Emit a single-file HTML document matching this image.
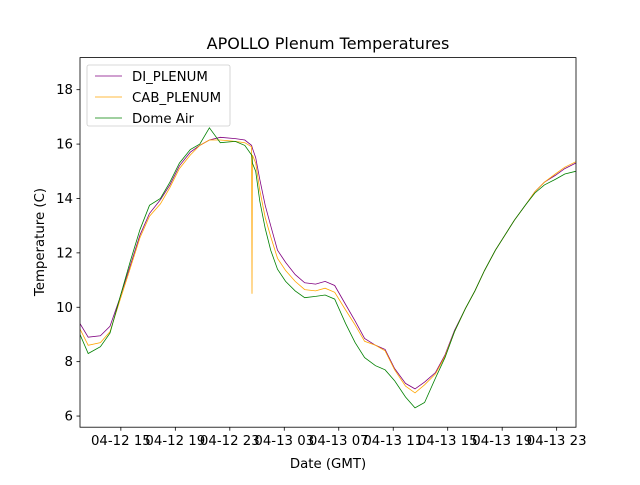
<!DOCTYPE html>
<html><head><meta charset="utf-8"><style>
body{margin:0;background:#fff}
svg{font-family:"DejaVu Sans","Liberation Sans",sans-serif}
</style></head><body>
<svg width="640" height="480" viewBox="0 0 640 480">
<g id="plot"></g>
</svg>
<script>
const times=[12.0,12.6,13.5,14.2,14.9,15.7,16.4,17.1,17.9,18.6,19.3,20.1,20.8,21.5,22.3,23.4,24.1,24.6,24.63,24.66,24.9,25.2,25.6,26.0,26.5,27.1,27.8,28.5,29.3,30.0,30.7,31.5,32.2,32.9,33.7,34.4,35.1,35.9,36.6,37.3,38.1,38.8,39.5,40.3,41.0,41.7,42.5,43.2,43.9,44.7,45.4,46.1,46.9,47.6,48.4];
const diPlenum=[9.4,8.9,8.95,9.3,10.3,11.55,12.65,13.45,13.95,14.5,15.2,15.7,15.95,16.15,16.25,16.2,16.15,15.95,15.9,15.85,15.5,14.7,13.75,13.0,12.1,11.65,11.2,10.9,10.85,10.95,10.8,10.1,9.5,8.85,8.6,8.45,7.75,7.2,7.0,7.25,7.6,8.25,9.15,9.95,10.6,11.35,12.1,12.65,13.2,13.75,14.25,14.6,14.85,15.1,15.3];
const cabPlenum=[9.2,8.6,8.7,9.1,10.2,11.45,12.55,13.35,13.8,14.4,15.1,15.6,15.95,16.15,16.15,16.1,16.05,15.9,10.5,15.6,15.3,14.3,13.3,12.6,11.8,11.35,10.95,10.65,10.6,10.7,10.55,9.9,9.35,8.75,8.6,8.4,7.7,7.1,6.85,7.15,7.55,8.2,9.1,9.95,10.6,11.35,12.1,12.65,13.2,13.75,14.25,14.6,14.9,15.15,15.35];
const domeAir=[9.0,8.3,8.55,9.05,10.3,11.7,12.85,13.75,14.0,14.6,15.3,15.8,16.0,16.6,16.05,16.1,15.95,15.6,15.5,15.3,15.0,13.9,12.9,12.1,11.4,10.95,10.6,10.35,10.4,10.45,10.3,9.4,8.7,8.15,7.85,7.7,7.3,6.7,6.3,6.5,7.4,8.15,9.1,9.95,10.6,11.35,12.1,12.65,13.2,13.75,14.2,14.5,14.7,14.9,15.0];
const yTicks=[6,8,10,12,14,16,18];
const xTickHours=[15,19,23,27,31,35,39,43,47];
const xTickLabels=["04-12 15","04-12 19","04-12 23","04-13 03","04-13 07","04-13 11","04-13 15","04-13 19","04-13 23"];
const seriesNames=["DI_PLENUM","CAB_PLENUM","Dome Air"];

const L=80,R=576,T=57.6,B=427.2;
const X0=12.0,X1=48.42,Y0=5.59,Y1=19.18;
const sx=h=>L+(h-X0)/(X1-X0)*(R-L);
const sy=v=>B-(v-Y0)/(Y1-Y0)*(B-T);
const NS="http://www.w3.org/2000/svg";
const g=document.getElementById('plot');
function mk(tag,attrs,parent){const e=document.createElementNS(NS,tag);for(const k in attrs)e.setAttribute(k,attrs[k]);(parent||g).appendChild(e);return e;}

const clip=mk('clipPath',{id:'c'});mk('rect',{x:L,y:T,width:R-L,height:B-T},clip);
const colors=["#800080","#ffa500","#008000"];
const data=[diPlenum,cabPlenum,domeAir];
const names=["series-di-plenum","series-cab-plenum","series-dome-air"];
data.forEach((vals,i)=>{
  const p=mk('polyline',{points:times.map((t,j)=>sx(t).toFixed(1)+','+sy(vals[j]).toFixed(1)).join(' '),fill:'none',stroke:colors[i],'stroke-width':0.8,'clip-path':'url(#c)'});
  
  
});
const frame=mk('rect',{x:L,y:T,width:R-L,height:B-T,fill:'none',stroke:'#000','stroke-width':0.8});


yTicks.forEach(v=>{
  const y=sy(v);
  mk('line',{x1:L-3.5,x2:L,y1:y,y2:y,stroke:'#000','stroke-width':0.8});
  const t=mk('text',{x:L-7,y:y+4.5,'text-anchor':'end','font-size':13.3});t.textContent=v;
  
  
});
xTickHours.forEach((h,i)=>{
  const x=sx(h);
  mk('line',{x1:x,x2:x,y1:B,y2:B+3.5,stroke:'#000','stroke-width':0.8});
  const t=mk('text',{x:x,y:B+18,'text-anchor':'middle','font-size':13.3});t.textContent=xTickLabels[i];
  
  
});
const title=mk('text',{x:(L+R)/2,y:49,'text-anchor':'middle','font-size':16});title.textContent="APOLLO Plenum Temperatures";


const xl=mk('text',{x:(L+R)/2,y:468,'text-anchor':'middle','font-size':13.3});xl.textContent="Date (GMT)";


const yl=mk('text',{x:0,y:0,'text-anchor':'middle','font-size':13.3,transform:'translate(44,242) rotate(-90)'});yl.textContent="Temperature (C)";


const lg=mk('g',{});


mk('rect',{x:87,y:65,width:143,height:61,rx:2,fill:'#fff','fill-opacity':0.8,stroke:'#ccc','stroke-width':0.8},lg);
seriesNames.forEach((n,i)=>{
  const y=76+i*21;
  const ln=mk('line',{x1:95,x2:122,y1:y,y2:y,stroke:colors[i],'stroke-width':0.8},lg);
  
  
  const t=mk('text',{x:132,y:y+5,'font-size':13.3},lg);t.textContent=n;
  
  
});
</script>
</body></html>
